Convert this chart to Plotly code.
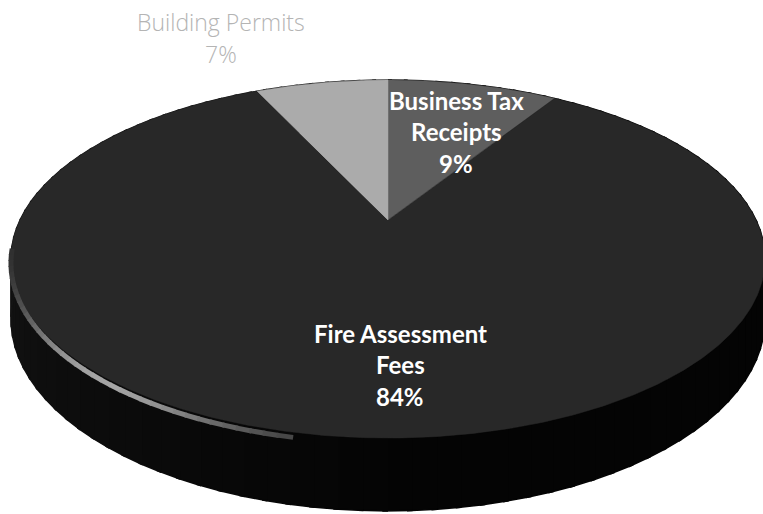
import numpy as np
import plotly.graph_objects as go

# Revenue sources and their shares (percent)
categories = ["Business Tax Receipts", "Fire Assessment Fees", "Building Permits"]
label_lines = [["Business Tax", "Receipts"], ["Fire Assessment", "Fees"], ["Building Permits"]]
values = [9, 84, 7]

slice_colors = ["#5e5e5e", "#282828", "#ababab"]
label_colors = ["#ffffff", "#ffffff", "#b4b4b4"]
label_fonts = [("Lato", 24, "bold"), ("Lato", 24, "bold"), ("Open Sans", 23, 300)]
label_pos = [(456, 100), (400, 333), (221, 22)]
LINE_GAP = 31.5

W, H = 763, 514
CX, CY = 388, 220            # centre of the disc (apex of the wedges) on screen
A, B, P = 368, 170.5, 0.218  # horizontal/vertical radii and perspective factor
DEPTH = 57                   # thickness of the disc


def project(theta_deg, drop=0.0):
    """Screen position of a rim point; theta measured clockwise from 12 o'clock."""
    t = np.radians(theta_deg)
    X, Y = np.sin(t), np.cos(t)
    w = 1 + P * Y
    return CX + A * X / w, CY - B * Y / w + drop / w


total = sum(values)
bounds = np.concatenate([[0], np.cumsum(values)]) / total * 360.0

fig = go.Figure()

# side wall of the disc, shaded from very dark grey on the left to black on the right
n_strips = 120
for i in range(n_strips):
    a0 = i * 360.0 / n_strips
    a1 = (i + 1) * 360.0 / n_strips + 0.6
    th = np.linspace(a0, a1, 4)
    xt, yt = project(th)
    xb, yb = project(th[::-1], DEPTH)
    mid = (a0 + a1) / 2
    k = np.clip((mid - 175) / (265 - 175), 0, 1)
    g = int(4 + 16 * k)
    col = f"rgb({g},{g},{g})"
    fig.add_trace(go.Scatter(
        x=np.concatenate([xt, xb]), y=np.concatenate([yt, yb]),
        mode="lines", fill="toself", fillcolor=col,
        line=dict(color=col, width=1.5), hoverinfo="skip", showlegend=False))

# top faces of the wedges
for cat, v, c, a0, a1 in zip(categories, values, slice_colors, bounds[:-1], bounds[1:]):
    th = np.linspace(a0, a1, max(int(a1 - a0) * 2, 8))
    xr, yr = project(th)
    fig.add_trace(go.Scatter(
        x=np.concatenate([[CX], xr, [CX]]), y=np.concatenate([[CY], yr, [CY]]),
        mode="lines", fill="toself", fillcolor=c, line=dict(color=c, width=0.5),
        name=cat, hoverinfo="name", showlegend=False))

# bevel highlight along the front-left edge of the top face
seg_edges = np.linspace(262, 192, 40)
for a0, a1 in zip(seg_edges[:-1], seg_edges[1:]):
    mid = (a0 + a1) / 2
    s = np.exp(-((mid - 220) / 22) ** 2)
    g = int(45 + 120 * s)
    th = np.linspace(a0, a1 - 0.3, 4)
    xh, yh = project(th, 4)
    fig.add_trace(go.Scatter(
        x=xh, y=yh, mode="lines", line=dict(color=f"rgb({g},{g},{g})", width=5),
        hoverinfo="skip", showlegend=False))

# slice labels
annotations = []
for lines, v, col, (fam, size, wt), (lx, ly) in zip(label_lines, values, label_colors,
                                                    label_fonts, label_pos):
    pct = f"{round(v / total * 100)}%"
    for j, txt in enumerate(lines + [pct]):
        annotations.append(dict(
            x=lx, y=ly + j * LINE_GAP, xref="x", yref="y", text=txt, showarrow=False,
            xanchor="center", yanchor="middle",
            font=dict(family=fam, size=size, color=col, weight=wt)))

fig.update_layout(
    width=W, height=H, margin=dict(l=0, r=0, t=0, b=0),
    paper_bgcolor="white", plot_bgcolor="white",
    xaxis=dict(range=[0, W], visible=False, fixedrange=True),
    yaxis=dict(range=[H, 0], visible=False, fixedrange=True),
    annotations=annotations, showlegend=False)

fig.write_html("out.html")
